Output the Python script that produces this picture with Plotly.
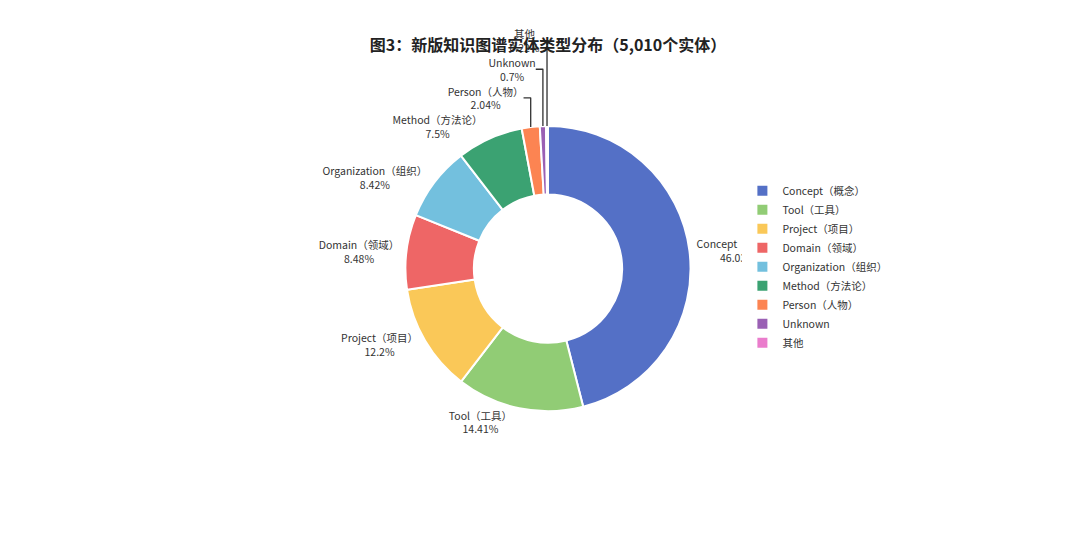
import plotly.graph_objects as go

categories = ["Concept（概念）", "Tool（工具）", "Project（项目）", "Domain（领域）",
              "Organization（组织）", "Method（方法论）", "Person（人物）", "Unknown", "其他"]
counts = [2306, 722, 611, 425, 422, 376, 102, 35, 11]
pct_labels = ["46.03%", "14.41%", "12.2%", "8.48%", "8.42%", "7.5%", "2.04%", "0.7%", "0.22%"]
colors = ["#5470c6", "#91cc75", "#fac858", "#ee6666", "#73c0de", "#3ba272", "#fc8452", "#9a60b4", "#ea7ccc"]

fig = go.Figure(go.Pie(
    labels=categories, values=counts,
    text=[f"{c}<br>{p}" for c, p in zip(categories, pct_labels)],
    textinfo="text", textposition="outside", hole=0.52,
    sort=False, direction="clockwise", rotation=0,
    marker=dict(colors=colors, line=dict(color="white", width=2)),
    textfont=dict(size=10.5, color="#333"),
    domain=dict(x=[0.368, 0.632], y=[0.243, 0.781]),
    hoverinfo="label+value+percent",
))
fig.update_layout(
    width=1080, height=534, paper_bgcolor="white", plot_bgcolor="white",
    margin=dict(l=0, r=0, t=0, b=0),
    font=dict(family="Noto Sans CJK SC, sans-serif", color="#333"),
    title=dict(text="<b>图3：新版知识图谱实体类型分布（5,010个实体）</b>",
               x=0.5, xanchor="center", y=0.93, yanchor="middle",
               font=dict(size=16, color="#222")),
    legend=dict(x=0.68, y=0.685, xanchor="left", yanchor="top",
                font=dict(size=10.5, color="#333"), itemwidth=30, tracegroupgap=0),
)
fig.write_html("out.html")
